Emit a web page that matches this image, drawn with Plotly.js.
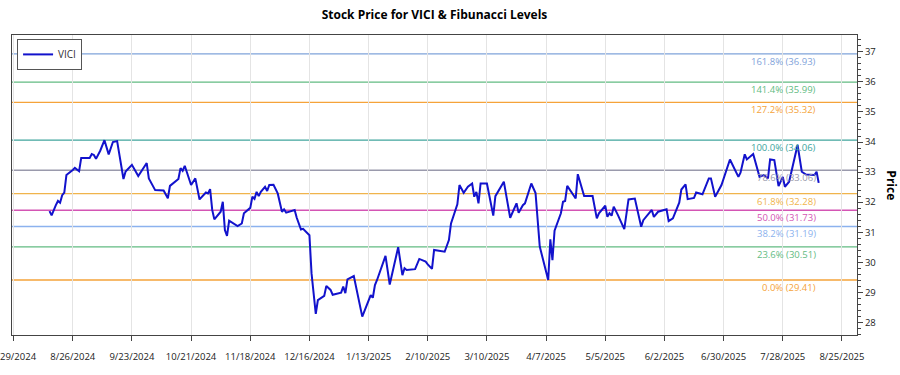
<!DOCTYPE html>
<html>
<head>
<meta charset="utf-8">
<script src="https://cdn.plot.ly/plotly-3.0.1.min.js"></script>
<style>html,body{margin:0;padding:0;background:#fff;}#chart{width:900px;height:375px;}</style>
</head>
<body>
<div id="chart"></div>
<script>
const dates = [
"2024-08-15","2024-08-16","2024-08-18","2024-08-19","2024-08-20","2024-08-21","2024-08-22","2024-08-23","2024-08-26","2024-08-27","2024-08-29","2024-08-30",
"2024-09-03","2024-09-04","2024-09-05","2024-09-06","2024-09-08","2024-09-10","2024-09-12","2024-09-14","2024-09-16","2024-09-19","2024-09-20","2024-09-23","2024-09-26","2024-09-30",
"2024-10-01","2024-10-04","2024-10-08","2024-10-10","2024-10-11","2024-10-15","2024-10-16","2024-10-17","2024-10-18","2024-10-19","2024-10-21","2024-10-23","2024-10-25","2024-10-28","2024-10-29","2024-10-30","2024-10-31",
"2024-11-01","2024-11-04","2024-11-05","2024-11-06","2024-11-07","2024-11-08","2024-11-12","2024-11-14","2024-11-15","2024-11-18","2024-11-19","2024-11-20","2024-11-21","2024-11-22","2024-11-23","2024-11-25","2024-11-26","2024-11-27","2024-11-29",
"2024-12-01","2024-12-03","2024-12-04","2024-12-05","2024-12-09","2024-12-10","2024-12-12","2024-12-13","2024-12-16","2024-12-17","2024-12-19","2024-12-20","2024-12-23","2024-12-24","2024-12-26","2024-12-27","2024-12-31",
"2025-01-01","2025-01-02","2025-01-03","2025-01-06","2025-01-10","2025-01-14","2025-01-15","2025-01-16","2025-01-17","2025-01-18","2025-01-21","2025-01-23","2025-01-27","2025-01-29","2025-01-30","2025-01-31",
"2025-02-04","2025-02-06","2025-02-09","2025-02-10","2025-02-12","2025-02-13","2025-02-18","2025-02-20","2025-02-21","2025-02-24","2025-02-25","2025-02-27",
"2025-03-01","2025-03-03","2025-03-04","2025-03-05","2025-03-06","2025-03-07","2025-03-10","2025-03-13","2025-03-14","2025-03-18","2025-03-21","2025-03-24","2025-03-25","2025-03-27","2025-03-28","2025-03-31",
"2025-04-02","2025-04-04","2025-04-08","2025-04-09","2025-04-10","2025-04-11","2025-04-14","2025-04-15","2025-04-16","2025-04-17","2025-04-21","2025-04-22","2025-04-25","2025-04-29",
"2025-05-01","2025-05-02","2025-05-05","2025-05-06","2025-05-07","2025-05-08","2025-05-09","2025-05-11","2025-05-14","2025-05-16","2025-05-19","2025-05-22","2025-05-23","2025-05-27","2025-05-28","2025-05-30",
"2025-06-03","2025-06-04","2025-06-06","2025-06-09","2025-06-10","2025-06-12","2025-06-13","2025-06-16","2025-06-17","2025-06-20","2025-06-23","2025-06-24","2025-06-26","2025-06-29",
"2025-07-03","2025-07-07","2025-07-08","2025-07-10","2025-07-11","2025-07-14","2025-07-17","2025-07-19","2025-07-21","2025-07-22","2025-07-24","2025-07-26","2025-07-28","2025-07-29","2025-07-31",
"2025-08-04","2025-08-06","2025-08-08","2025-08-10","2025-08-12","2025-08-13","2025-08-14"];

const prices = [
31.70,31.56,31.90,32.04,31.98,32.23,32.32,32.90,33.07,33.14,33.03,33.47,
33.47,33.60,33.57,33.44,33.71,34.06,33.59,34.00,34.03,32.77,33.02,33.24,32.87,33.30,
32.79,32.40,32.39,32.13,32.54,32.77,33.13,33.04,33.21,32.98,32.57,32.79,32.09,32.32,32.29,32.43,31.74,
31.43,31.68,32.01,31.07,30.88,31.38,31.20,31.29,31.63,31.81,32.18,32.11,32.34,32.20,32.34,32.51,32.37,32.57,32.58,
32.29,31.68,31.76,31.65,31.74,31.48,31.09,31.11,30.90,29.63,28.28,28.74,28.88,29.21,29.08,28.92,28.99,
29.19,28.97,29.43,29.54,28.19,28.91,28.82,29.24,29.41,29.63,30.21,29.26,30.50,29.57,29.80,29.74,
29.77,30.11,30.02,29.93,29.78,30.41,30.35,30.74,31.29,31.93,32.57,32.31,
32.51,32.62,32.18,32.34,31.96,32.62,32.62,31.55,32.20,32.68,31.48,31.96,31.65,31.90,31.96,32.62,
32.30,30.52,29.41,30.76,30.07,31.05,31.63,32.01,32.04,32.54,32.12,32.93,32.20,32.20,
31.46,31.63,31.88,31.51,31.63,31.55,31.85,31.57,31.10,32.09,32.12,31.18,31.40,31.74,31.51,31.68,
31.76,31.37,31.46,31.98,32.42,32.59,32.10,32.14,32.32,32.26,32.79,32.79,32.18,32.57,
33.42,32.84,32.98,33.59,33.42,33.60,32.84,32.90,32.79,33.42,33.40,32.53,32.84,32.51,32.68,
33.90,33.01,32.92,32.90,32.90,33.01,32.64];

const fibLabels = ["0.0%","23.6%","38.2%","50.0%","61.8%","78.6%","100.0%","127.2%","141.4%","161.8%"];
const fibValues = [29.41,30.51,31.19,31.73,32.28,33.06,34.06,35.32,35.99,36.93];
const fibColors = ["#f5a33a","#62bb82","#8cb2ee","#d455b4","#f0b44c","#9a9aac","#40a59d","#f5a33a","#62bb82","#7fa3da"];

const xTickDates = ["2024-07-29","2024-08-26","2024-09-23","2024-10-21","2024-11-18","2024-12-16","2025-01-13","2025-02-10","2025-03-10","2025-04-07","2025-05-05","2025-06-02","2025-06-30","2025-07-28","2025-08-25"];
const xTickLabels = ["7/29/2024","8/26/2024","9/23/2024","10/21/2024","11/18/2024","12/16/2024","1/13/2025","2/10/2025","3/10/2025","4/7/2025","5/5/2025","6/2/2025","6/30/2025","7/28/2025","8/25/2025"];

const FONT = "Open Sans, Noto Sans, sans-serif";

const shapes = fibValues.map((v, i) => ({
  type: "line", xref: "paper", x0: 0, x1: 1, yref: "y", y0: v, y1: v,
  line: {color: fibColors[i], width: 1.3}, layer: "below"
}));

const annotations = fibValues.map((v, i) => ({
  xref: "paper", x: 0.954, xanchor: "right",
  yref: "y", y: v, yanchor: "top", yshift: 1,
  text: fibLabels[i] + " (" + v.toFixed(2) + ")",
  showarrow: false, font: {family: FONT, size: 9.5, color: fibColors[i]}
}));

annotations.push({
  xref: "paper", x: 1.041, xanchor: "center",
  yref: "paper", y: 0.5, yanchor: "middle",
  text: "<b>Price</b>", textangle: 90, showarrow: false,
  font: {family: FONT, size: 12, color: "#000"}
});

const trace = {
  x: dates, y: prices, type: "scatter", mode: "lines", name: "VICI",
  line: {color: "#1212cc", width: 2}
};

const layout = {
  width: 900, height: 375,
  margin: {l: 12, r: 43, t: 35, b: 40},
  paper_bgcolor: "#fff", plot_bgcolor: "#fff",
  font: {family: FONT, size: 10, color: "#333"},
  title: {text: "Stock Price for VICI & Fibunacci Levels", xref: "paper", x: 0.5, xanchor: "center",
          yref: "container", y: 0.96, yanchor: "middle",
          font: {family: FONT, size: 12, color: "#000", weight: "bold"}},
  showlegend: true,
  legend: {x: 0.006, y: 0.987, xanchor: "left", yanchor: "top", bgcolor: "#fff",
           bordercolor: "#555", borderwidth: 1, itemwidth: 30,
           font: {family: FONT, size: 10, color: "#333"}},
  xaxis: {
    type: "date", range: ["2024-07-28 06:00", "2025-09-01 03:00"],
    tickmode: "array", tickvals: xTickDates, ticktext: xTickLabels,
    ticks: "outside", ticklen: 5, tickcolor: "#444",
    showgrid: true, gridcolor: "#e4e4e4", gridwidth: 1,
    showline: true, mirror: true, linecolor: "#444", linewidth: 1,
    zeroline: false, ticklabelstandoff: 8, ticklabeloverflow: "allow",
    tickfont: {family: FONT, size: 9.5, color: "#222"}
  },
  yaxis: {
    side: "right", range: [27.58, 37.56], dtick: 1, tick0: 28,
    ticks: "outside", ticklen: 5, tickcolor: "#444",
    minor: {dtick: 0.2, ticks: "outside", ticklen: 2.5, tickcolor: "#444", showgrid: false},
    showgrid: false, zeroline: false,
    showline: true, mirror: true, linecolor: "#444", linewidth: 1,
    tickfont: {family: FONT, size: 9.5, color: "#222"}
  },
  shapes: shapes,
  annotations: annotations
};

Plotly.newPlot("chart", [trace], layout, {displayModeBar: false, staticPlot: true});
</script>
</body>
</html>
